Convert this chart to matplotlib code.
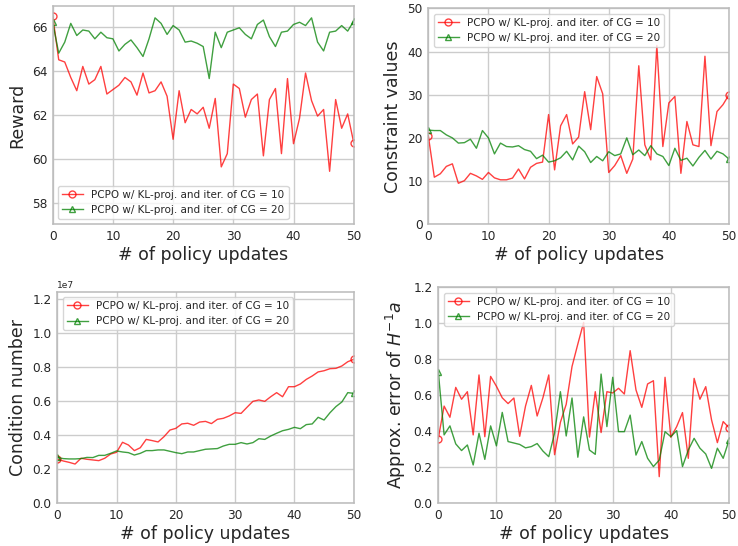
import matplotlib
matplotlib.use("Agg")
import matplotlib.pyplot as plt
import numpy as np

updates = list(range(51))
label_cg10 = "PCPO w/ KL-proj. and iter. of CG = 10"
label_cg20 = "PCPO w/ KL-proj. and iter. of CG = 20"

reward_cg10 = [66.5, 64.5, 64.4, 63.7, 63.1, 64.2, 63.4, 63.6, 64.2, 62.95, 63.15, 63.35, 63.7, 63.5,
               62.9, 63.9, 63.0, 63.1, 63.5, 62.85, 60.9, 63.1, 61.65, 62.25, 62.05, 62.35, 61.4, 62.75,
               59.65, 60.25, 63.4, 63.2, 61.9, 62.7, 62.95, 60.15, 62.7, 63.2, 60.25, 63.65, 60.7, 61.85,
               63.9, 62.65, 61.95, 62.25, 59.45, 62.7, 61.4, 62.05, 60.75]
reward_cg20 = [66.2, 64.8, 65.3, 66.15, 65.6, 65.85, 65.8, 65.45, 65.75, 65.5, 65.45, 64.9, 65.2, 65.4,
               65.05, 64.65, 65.45, 66.4, 66.15, 65.65, 66.05, 65.85, 65.3, 65.35, 65.25, 65.1, 63.65,
               65.75, 65.05, 65.75, 65.85, 65.95, 65.65, 65.45, 66.1, 66.3, 65.55, 65.1, 65.75, 65.8,
               66.1, 66.2, 66.05, 66.4, 65.3, 64.9, 65.75, 65.8, 66.05, 65.8, 66.25]

constraint_cg10 = [20.5, 10.9, 11.7, 13.4, 14.0, 9.5, 10.1, 11.8, 11.2, 10.4, 12.0, 10.75, 10.3, 10.3,
                   10.7, 12.8, 10.5, 13.2, 14.1, 14.4, 25.4, 12.6, 22.8, 25.4, 18.6, 20.2, 30.7, 21.9,
                   34.2, 30.2, 12.0, 13.6, 15.9, 11.8, 15.1, 36.7, 18.4, 14.9, 41.4, 18.0, 28.1, 29.6,
                   11.8, 23.8, 18.4, 18.0, 38.9, 18.2, 26.1, 27.7, 30.0]
constraint_cg20 = [21.8, 21.7, 21.7, 20.7, 20.0, 18.8, 18.9, 19.7, 17.6, 21.7, 20.0, 16.3, 18.8, 18.0,
                   17.9, 18.2, 17.3, 16.9, 15.2, 16.0, 14.4, 14.7, 15.4, 16.9, 14.9, 18.1, 16.8, 14.3,
                   15.7, 14.7, 16.8, 15.9, 16.3, 20.0, 16.1, 17.2, 15.9, 18.2, 16.3, 15.7, 13.6, 17.6,
                   14.8, 15.3, 13.5, 15.5, 17.1, 15.1, 16.9, 16.3, 15.1]

cond_cg10 = [0.26, 0.249, 0.241, 0.231, 0.265, 0.259, 0.255, 0.251, 0.265, 0.29, 0.30, 0.359, 0.343,
             0.31, 0.327, 0.376, 0.369, 0.361, 0.392, 0.431, 0.441, 0.467, 0.471, 0.459, 0.478, 0.482,
             0.469, 0.494, 0.5, 0.514, 0.533, 0.529, 0.565, 0.6, 0.608, 0.6, 0.627, 0.651, 0.627, 0.686,
             0.686, 0.702, 0.729, 0.749, 0.773, 0.78, 0.792, 0.794, 0.808, 0.833, 0.847]
cond_cg20 = [0.27, 0.263, 0.261, 0.261, 0.263, 0.27, 0.269, 0.282, 0.282, 0.294, 0.308, 0.302, 0.298,
             0.284, 0.294, 0.31, 0.31, 0.314, 0.314, 0.306, 0.298, 0.292, 0.302, 0.302, 0.31, 0.318,
             0.32, 0.322, 0.337, 0.347, 0.347, 0.357, 0.349, 0.357, 0.38, 0.376, 0.396, 0.412, 0.427,
             0.435, 0.447, 0.439, 0.463, 0.467, 0.506, 0.49, 0.533, 0.569, 0.596, 0.651, 0.647]
cond_scale = 1e7

err_cg10 = [0.36, 0.54, 0.478, 0.644, 0.578, 0.62, 0.38, 0.713, 0.37, 0.705, 0.65, 0.586, 0.554, 0.585,
            0.372, 0.54, 0.655, 0.485, 0.587, 0.713, 0.27, 0.45, 0.55, 0.76, 0.885, 1.005, 0.368, 0.62,
            0.393, 0.62, 0.613, 0.639, 0.607, 0.848, 0.63, 0.533, 0.663, 0.681, 0.148, 0.7, 0.367,
            0.426, 0.504, 0.25, 0.694, 0.578, 0.648, 0.463, 0.337, 0.454, 0.42]
err_cg20 = [0.73, 0.38, 0.43, 0.33, 0.293, 0.324, 0.213, 0.389, 0.244, 0.43, 0.319, 0.505, 0.343, 0.335,
            0.327, 0.308, 0.315, 0.332, 0.29, 0.259, 0.39, 0.62, 0.374, 0.585, 0.256, 0.48, 0.296,
            0.272, 0.718, 0.426, 0.7, 0.398, 0.398, 0.49, 0.268, 0.343, 0.25, 0.204, 0.24, 0.398, 0.37,
            0.404, 0.204, 0.296, 0.361, 0.306, 0.274, 0.194, 0.306, 0.25, 0.35]

plt.rcParams.update({
    "font.family": "DejaVu Sans",
    "axes.edgecolor": "#cccccc",
    "axes.linewidth": 1.1,
    "grid.color": "#cccccc",
    "grid.linewidth": 1.0,
    "text.color": "#262626",
    "axes.labelcolor": "#262626",
    "xtick.color": "#262626",
    "ytick.color": "#262626",
    "xtick.major.size": 0,
    "ytick.major.size": 0,
    "xtick.major.pad": 4,
    "ytick.major.pad": 4,
})

fig = plt.figure(figsize=(7.38, 5.46), dpi=100)
W, H = 738, 546

def make_ax(left, top, right, bottom):
    return fig.add_axes([left / W, 1 - bottom / H, (right - left) / W, (bottom - top) / H])

axes = [
    make_ax(52.7, 5.7, 353.7, 224.3),
    make_ax(428.3, 8.3, 729.0, 224.3),
    make_ax(57.3, 291.7, 353.7, 503.3),
    make_ax(438.3, 287.3, 729.0, 503.3),
]

panels = [
    (reward_cg10, reward_cg20, "Reward", (57.05, 66.95), [58, 60, 62, 64, 66], "lower left"),
    (constraint_cg10, constraint_cg20, "Constraint values", (0, 50), [0, 10, 20, 30, 40, 50], "upper left"),
    ([v * cond_scale for v in cond_cg10], [v * cond_scale for v in cond_cg20], "Condition number",
     (0, 1.245e7), [0, 0.2e7, 0.4e7, 0.6e7, 0.8e7, 1.0e7, 1.2e7], "upper left"),
    (err_cg10, err_cg20, r"Approx. error of $H^{-1}a$", (0, 1.2), [0, 0.2, 0.4, 0.6, 0.8, 1.0, 1.2], "upper left"),
]

for ax, (a, b, ylab, ylim, yt, loc) in zip(axes, panels):
    ax.grid(True)
    ax.set_axisbelow(True)
    ax.plot(updates, a, color="red", alpha=0.75, lw=1.0, marker="o", markevery=[0, len(a) - 1],
            markerfacecolor="none", markersize=5, label=label_cg10)
    ax.plot(updates, b, color="green", alpha=0.75, lw=1.0, marker="^", markevery=[0, len(b) - 1],
            markerfacecolor="none", markersize=5, label=label_cg20)
    ax.set_xlim(0, 50)
    ax.set_xticks([0, 10, 20, 30, 40, 50])
    ax.set_ylim(*ylim)
    ax.set_yticks(yt)
    ax.tick_params(labelsize=8.7)
    ax.set_xlabel("# of policy updates", fontsize=12.5, labelpad=2)
    ax.set_ylabel(ylab, fontsize=12.5, labelpad=4)
    leg = ax.legend(loc=loc, fontsize=7.5, framealpha=0.8, edgecolor="#cccccc", fancybox=True)
    for sp in ax.spines.values():
        sp.set_color("#bbbbbb")

axes[2].yaxis.get_offset_text().set_fontsize(6.5)
axes[3].yaxis.set_major_formatter(matplotlib.ticker.FormatStrFormatter("%.1f"))
axes[2].yaxis.set_major_formatter(matplotlib.ticker.ScalarFormatter(useMathText=False))

fig.savefig("out.png", dpi=100)
